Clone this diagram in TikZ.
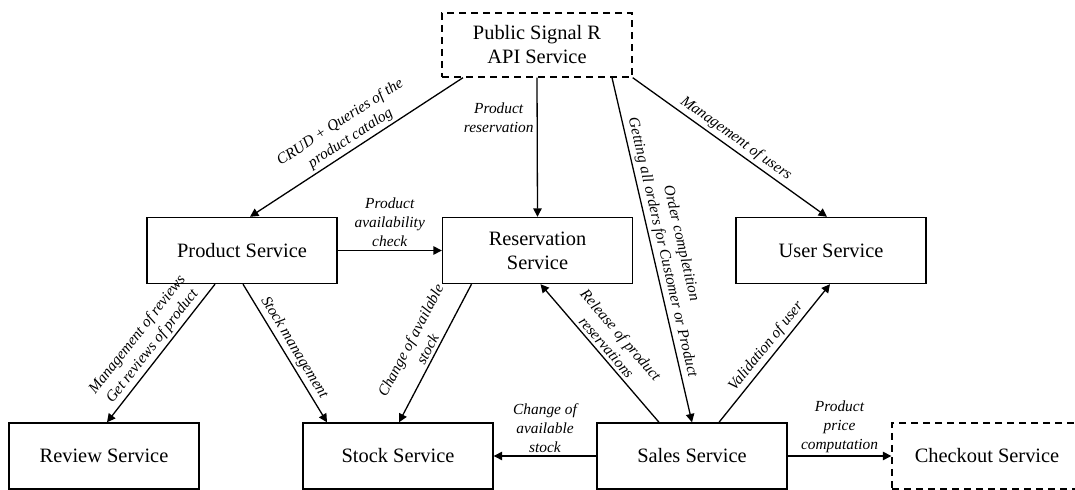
\documentclass[tikz,border=0pt]{standalone}
\usepackage{fontspec}
\setmainfont{Liberation Serif}
\usetikzlibrary{arrows.meta,calc}
\tikzset{
  svc/.style={draw, line width=0.7pt, minimum width=95pt, minimum height=33pt, inner sep=2pt,
    align=center, font=\fontsize{10.2}{12}\selectfont},
  ext/.style={svc, dash pattern=on 3.5pt off 2.5pt},
  conn/.style={line width=0.65pt, -{Triangle[length=4.2pt,width=4.2pt]}},
  lab/.style={font=\fontsize{7.7}{9.5}\selectfont\itshape, align=center, inner sep=1.5pt},
}
\begin{document}
\begin{tikzpicture}[x=0.5pt,y=-0.5pt]
\useasboundingbox (0,0) rectangle (1075,490);
% nodes
\node[ext, minimum height=32pt] (api) at (537,45) {Public Signal R\\API Service};
\node[svc] (prod) at (242,250.5) {Product Service};
\node[svc] (res) at (537.5,250.5) {Reservation\\Service};
\node[svc] (user) at (831,250.5) {User Service};
\node[svc] (review) at (104,456) {Review Service};
\node[svc] (stock) at (398,456) {Stock Service};
\node[svc] (sales) at (692,456) {Sales Service};
\node[ext] (checkout) at (987,456) {Checkout Service};
% connectors
\draw[conn] ($(api.south)+(-74,0)$) -- node[lab, sloped, above, midway] {CRUD + Queries of the\\product catalog} ($(prod.north)+(8,0)$);
\draw[conn] (api.south) -- node[lab, left, pos=0.29] {Product\\reservation} (res.north);
\draw[conn] ($(api.south)+(75,0)$) -- node[lab, sloped, above, midway] {Order completition\\Getting all orders for Customer or Product} (sales.north);
\draw[conn] (api.south east) -- node[lab, sloped, above, midway] {Management of users} ($(user.north)+(-4,0)$);
\draw[conn] (prod.east) -- node[lab, above, midway] {Product\\availability\\check} (res.west);
\draw[conn] ($(prod.south)+(-27,0)$) -- node[lab, sloped, above, midway] {Management of reviews\\Get reviews of product} ($(review.north)+(3,0)$);
\draw[conn] ($(prod.south)+(1,0)$) -- node[lab, sloped, above, midway] {Stock management} ($(stock.north)+(-71,0)$);
\draw[conn] ($(res.south)+(-66,0)$) -- node[lab, sloped, above, midway] {Change of available\\stock} ($(stock.north)+(1,0)$);
\draw[conn] ($(sales.north)+(-33,0)$) -- node[lab, sloped, above, midway] {Release of product\\reservations} ($(res.south)+(3,0)$);
\draw[conn] ($(sales.north)+(27,0)$) -- node[lab, sloped, above, midway] {Validation of user} ($(user.south)+(-1,0)$);
\draw[conn] (sales.west) -- node[lab, above, midway] {Change of\\available\\stock} (stock.east);
\draw[conn] (sales.east) -- node[lab, above, midway] {Product\\price\\computation} (checkout.west);
\end{tikzpicture}
\end{document}
